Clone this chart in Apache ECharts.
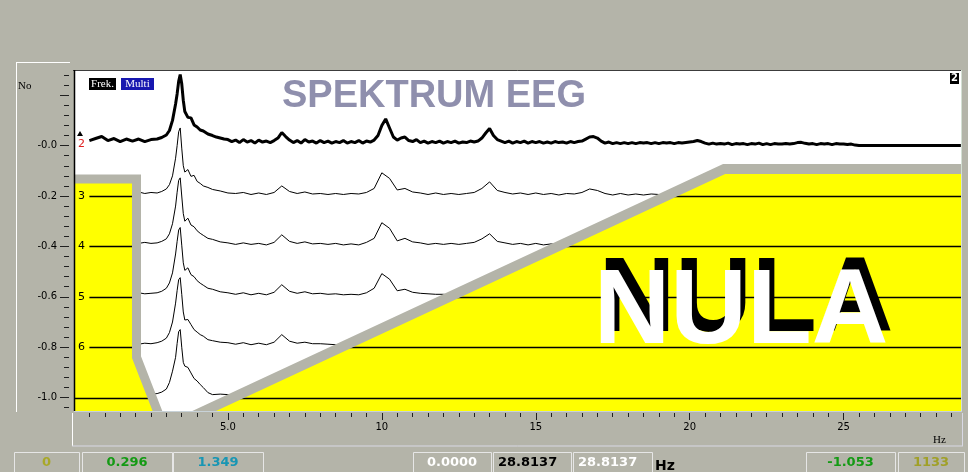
<!DOCTYPE html>
<html><head><meta charset="utf-8">
<script src="https://cdn.jsdelivr.net/npm/echarts@6/dist/echarts.min.js"></script>
<style>html,body{margin:0;padding:0;background:#b4b4a9;}#c{width:968px;height:472px;}</style>
</head><body><div id="c"></div>
<script>
// ---------------- data ----------------
// frequency grid (Hz) of the thin traces 3..7
const freqHz = [0.5,0.7,0.9,1.1,1.3,1.5,1.7,1.9,2.1,2.3,
 2.5,2.7,2.85,3.0,3.1,3.2,3.3,3.35,3.4,3.45,
 3.5,3.55,3.6,3.7,3.8,3.9,4.0,4.1,4.2,4.35,
 4.5,4.75,5.0,5.25,5.5,5.75,6.0,6.25,6.5,6.75,
 7.0,7.25,7.5,7.75,8.0,8.25,8.5,8.75,9.0,9.25,
 9.5,9.75,10.0,10.25,10.5,10.75,11.0,11.25,11.5,11.75,
 12.0,12.25,12.5,12.75,13.0,13.25,13.5,13.75,14.0,14.25,
 14.5,14.75,15.0,15.25,15.5,15.75,16.0,16.25,16.5,16.75,
 17.0,17.25,17.5,17.75,18.0,18.25,18.5,18.75,19.0,19.25,
 19.5,19.75,20.0,20.25,20.5,20.75,21.0,21.25,21.5,21.75,
 22.0,22.25,22.5,22.75,23.0,23.25,23.5,23.75,24.0,24.25,
 24.5,24.75,25.0,25.25,25.5,25.75,26.0,26.25,26.5,26.75,
 27.0,27.25,27.5,27.75,28.0,28.25,28.5,28.75,28.81];

// frequency grid (Hz) of the thick trace 2 (finer)
const freq2 = [0.5,0.7,0.9,1.1,1.3,1.5,1.7,1.9,2.1,2.3,
 2.5,2.7,2.85,3.0,3.1,3.2,3.3,3.35,3.4,3.45,
 3.5,3.55,3.6,3.7,3.8,3.9,4.0,4.1,4.2,4.35,
 4.5,4.625,4.75,4.875,
 5.0,5.125,5.25,5.375,5.5,5.625,5.75,5.875,
 6.0,6.125,6.25,6.375,6.5,6.625,6.75,6.875,
 7.0,7.125,7.25,7.375,7.5,7.625,7.75,7.875,
 8.0,8.125,8.25,8.375,8.5,8.625,8.75,8.875,
 9.0,9.125,9.25,9.375,9.5,9.625,9.75,9.875,
 10.0,10.125,10.25,10.375,10.5,10.625,10.75,10.875,
 11.0,11.125,11.25,11.375,11.5,11.625,11.75,11.875,
 12.0,12.125,12.25,12.375,12.5,12.625,12.75,12.875,
 13.0,13.125,13.25,13.375,13.5,13.625,13.75,13.875,
 14.0,14.125,14.25,14.375,14.5,14.625,14.75,14.875,
 15.0,15.125,15.25,15.375,15.5,15.625,15.75,15.875,
 16.0,16.125,16.25,16.375,16.5,16.625,16.75,16.875,
 17.0,17.125,17.25,17.375,17.5,17.625,17.75,17.875,
 18.0,18.125,18.25,18.375,18.5,18.625,18.75,18.875,
 19.0,19.125,19.25,19.375,19.5,19.625,19.75,19.875,
 20.0,20.125,20.25,20.375,20.5,20.625,20.75,20.875,
 21.0,21.125,21.25,21.375,21.5,21.625,21.75,21.875,
 22.0,22.125,22.25,22.375,22.5,22.625,22.75,22.875,
 23.0,23.125,23.25,23.375,23.5,23.625,23.75,23.875,
 24.0,24.125,24.25,24.375,24.5,24.625,24.75,24.875,
 25.0,25.125,25.25,25.375,25.5,
 25.75,26.0,26.25,26.5,26.75,27.0,27.25,27.5,27.75,28.0,28.25,28.5,28.75,28.81];

// trace offsets (No) and their labels
const levels = [0, -0.2, -0.4, -0.6, -0.8, -1.0];
const traceNames = ['2', '3', '4', '5', '6', ''];

// amplitudes above each trace's offset
const amp2 = [0.020,0.028,0.036,0.020,0.028,0.016,0.026,0.018,0.026,0.016,
 0.024,0.026,0.032,0.042,0.060,0.100,0.165,0.205,0.255,0.282,
 0.245,0.180,0.135,0.112,0.110,0.082,0.074,0.062,0.058,0.046,
 0.040,0.034,0.030,0.026,
 0.024,0.016,0.022,0.012,0.024,0.014,0.020,0.010,
 0.022,0.014,0.018,0.012,0.020,0.030,0.052,0.036,
 0.022,0.012,0.020,0.010,0.024,0.014,0.018,0.010,
 0.020,0.012,0.018,0.010,0.016,0.012,0.020,0.010,
 0.016,0.012,0.020,0.010,0.018,0.014,0.022,0.040,
 0.080,0.106,0.070,0.034,0.022,0.030,0.034,0.020,
 0.016,0.024,0.012,0.018,0.010,0.016,0.012,0.018,
 0.010,0.016,0.012,0.018,0.010,0.014,0.012,0.018,
 0.014,0.018,0.030,0.050,0.068,0.040,0.024,0.018,
 0.012,0.018,0.010,0.016,0.012,0.018,0.010,0.016,
 0.012,0.016,0.010,0.014,0.010,0.016,0.012,0.014,
 0.010,0.016,0.012,0.016,0.018,0.026,0.034,0.036,
 0.030,0.018,0.010,0.014,0.008,0.012,0.008,0.012,
 0.008,0.012,0.008,0.012,0.010,0.012,0.008,0.012,
 0.008,0.012,0.010,0.012,0.008,0.012,0.010,0.012,
 0.014,0.016,0.020,0.016,0.010,0.006,0.010,0.006,
 0.008,0.006,0.010,0.004,0.008,0.006,0.008,0.004,
 0.008,0.006,0.010,0.004,0.008,0.004,0.008,0.006,
 0.006,0.008,0.006,0.008,0.012,0.013,0.009,0.006,
 0.008,0.004,0.008,0.006,0.008,0.004,0.008,0.006,
 0.006,0.004,0.006,0.002,0.000,
 0,0,0,0,0,0,0,0,0,0,0,0,0,0];
const amp3 = [0.014,0.010,0.016,0.012,0.018,0.010,0.014,0.012,0.016,0.010,
 0.014,0.012,0.018,0.028,0.045,0.080,0.150,0.200,0.255,0.270,
 0.190,0.120,0.095,0.105,0.078,0.082,0.058,0.050,0.040,0.034,
 0.026,0.020,0.012,0.010,0.014,0.006,0.012,0.006,0.014,0.040,
 0.018,0.010,0.016,0.008,0.010,0.006,0.010,0.006,0.010,0.008,
 0.014,0.030,0.092,0.070,0.024,0.030,0.016,0.012,0.006,0.012,
 0.006,0.010,0.006,0.010,0.014,0.030,0.056,0.022,0.014,0.008,
 0.012,0.006,0.012,0.006,0.010,0.004,0.010,0.008,0.014,0.028,
 0.022,0.010,0.004,0.010,0.004,0.008,0.004,0.008,0.006,0.004,
 0.006,0.008,0.010,0.014,0.008,0.006,0.004,0.006,0.004,0.006,
 0.004,0.006,0.004,0.004,0.006,0.004,0.008,0.006,0.004,0.004,
 0.006,0.004,0.004,0.002,0,0,0,0,0,0,
 0,0,0,0,0,0,0,0,0];
const amp4 = [0.012,0.016,0.010,0.014,0.012,0.018,0.010,0.014,0.012,0.016,
 0.012,0.014,0.020,0.030,0.050,0.090,0.160,0.215,0.262,0.272,
 0.200,0.130,0.100,0.112,0.085,0.078,0.062,0.052,0.044,0.032,
 0.028,0.018,0.014,0.008,0.014,0.008,0.012,0.006,0.016,0.046,
 0.020,0.012,0.018,0.010,0.012,0.008,0.012,0.006,0.010,0.006,
 0.016,0.032,0.094,0.072,0.022,0.032,0.018,0.014,0.008,0.012,
 0.008,0.012,0.008,0.012,0.016,0.030,0.050,0.020,0.014,0.008,
 0.012,0.006,0.012,0.006,0.010,0.006,0.008,0.010,0.016,0.026,
 0.020,0.010,0.008,0.006,0.008,0.006,0.008,0.006,0.004,0.006,
 0.004,0.006,0.010,0.012,0.006,0.004,0.006,0.004,0.006,0.004,
 0.006,0.004,0.004,0.006,0.004,0.006,0.008,0.006,0.004,0.004,
 0.004,0.006,0.004,0.002,0,0,0,0,0,0,
 0,0,0,0,0,0,0,0,0];
const amp5 = [0.014,0.012,0.018,0.010,0.016,0.012,0.014,0.010,0.016,0.012,
 0.014,0.016,0.022,0.034,0.055,0.095,0.170,0.220,0.265,0.275,
 0.205,0.135,0.105,0.115,0.088,0.080,0.064,0.054,0.046,0.034,
 0.030,0.020,0.016,0.010,0.016,0.008,0.014,0.008,0.018,0.048,
 0.022,0.014,0.020,0.012,0.014,0.010,0.012,0.008,0.010,0.008,
 0.016,0.034,0.092,0.070,0.024,0.030,0.018,0.014,0.012,0.010,
 0.010,0.008,0.012,0.010,0.014,0.028,0.052,0.020,0.012,0.010,
 0.010,0.008,0.010,0.006,0.008,0.008,0.010,0.012,0.014,0.026,
 0.020,0.010,0.006,0.008,0.006,0.006,0.008,0.004,0.006,0.006,
 0.004,0.006,0.008,0.012,0.008,0.006,0.004,0.004,0.006,0.004,
 0.004,0.004,0.006,0.004,0.004,0.006,0.008,0.006,0.004,0.004,
 0.004,0.004,0.006,0.002,0,0,0,0,0,0,
 0,0,0,0,0,0,0,0,0];
const amp6 = [0.016,0.014,0.012,0.018,0.014,0.012,0.016,0.014,0.012,0.016,
 0.014,0.018,0.024,0.036,0.058,0.100,0.175,0.225,0.268,0.276,
 0.210,0.140,0.108,0.110,0.090,0.070,0.060,0.050,0.044,0.030,
 0.026,0.020,0.018,0.012,0.018,0.010,0.016,0.010,0.020,0.050,
 0.024,0.016,0.020,0.014,0.014,0.012,0.010,0.012,0.008,0.010,
 0.014,0.030,0.090,0.068,0.022,0.030,0.016,0.012,0.010,0.010,
 0.008,0.010,0.010,0.008,0.016,0.030,0.054,0.022,0.014,0.010,
 0.010,0.008,0.008,0.008,0.010,0.006,0.008,0.010,0.016,0.028,
 0.022,0.010,0.008,0.006,0.006,0.008,0.006,0.006,0.004,0.006,
 0.006,0.004,0.010,0.014,0.006,0.006,0.004,0.006,0.004,0.004,
 0.006,0.004,0.006,0.004,0.004,0.004,0.008,0.006,0.004,0.004,
 0.004,0.004,0.004,0.002,0,0,0,0,0,0,
 0,0,0,0,0,0,0,0,0];
const amp7 = [0.014,0.016,0.012,0.014,0.018,0.012,0.016,0.014,0.012,0.016,
 0.014,0.016,0.022,0.034,0.060,0.105,0.160,0.215,0.262,0.270,
 0.200,0.140,0.125,0.120,0.098,0.076,0.066,0.052,0.040,0.020,
 0.012,0.014,0.012,0.010,0.014,0.010,0.012,0.010,0.016,0.044,
 0.020,0.014,0.018,0.012,0.010,0.012,0.008,0.010,0.008,0.010,
 0.014,0.030,0.088,0.066,0.022,0.028,0.016,0.012,0.010,0.008,
 0.010,0.008,0.010,0.008,0.014,0.028,0.050,0.020,0.012,0.010,
 0.010,0.006,0.008,0.008,0.008,0.006,0.008,0.010,0.014,0.026,
 0.020,0.010,0.006,0.006,0.006,0.006,0.004,0.006,0.004,0.004,
 0.006,0.004,0.008,0.012,0.006,0.004,0.004,0.004,0.004,0.004,
 0.004,0.004,0.004,0.006,0.004,0.004,0.006,0.006,0.004,0.004,
 0.004,0.004,0.004,0.002,0,0,0,0,0,0,
 0,0,0,0,0,0,0,0,0];

// axis ticks / labels
const yMajorTicks = [0.2, 0, -0.2, -0.4, -0.6, -0.8, -1.0];
const yLabelValues = [0, -0.2, -0.4, -0.6, -0.8, -1.0];
const yMinorTicks = [0.28,0.24,0.16,0.12,0.08,0.04,-0.04,-0.08,-0.12,-0.16,-0.24,-0.28,-0.32,-0.36,
 -0.44,-0.48,-0.52,-0.56,-0.64,-0.68,-0.72,-0.76,-0.84,-0.88,-0.92,-0.96,-1.04];
const xMajorTicks = [5, 10, 15, 20, 25];
const xMinorTicks = [0.5,1,1.5,2,2.5,3,3.5,4,4.5,5.5,6,6.5,7,7.5,8,8.5,9,9.5,
 10.5,11,11.5,12,12.5,13,13.5,14,14.5,15.5,16,16.5,17,17.5,18,18.5,19,19.5,
 20.5,21,21.5,22,22.5,23,23.5,24,24.5,25.5,26,26.5,27,27.5,28,28.5];
const xMin = 0, xMax = 28.8137, yMin = -1.053, yMax = 0.296;

// status bar texts
const statusTexts = ['0', '0.296', '1.349', '0.0000', '28.8137', '28.8137', '-1.053', '1133'];

// mask ("NULA") outline in data coordinates
const maskLeft = [[0,-0.133],[2.03,-0.133],[2.03,-0.839],[2.71,-1.053],[0,-1.053]];
const maskRight = [[4.22,-1.053],[21.12,-0.093],[28.8137,-0.093],[28.8137,-1.053]];
const borderLeft = [[-0.5,-0.133],[2.03,-0.133],[2.03,-0.839],[2.71,-1.053],[2.80,-1.081]];
const borderRight = [[3.70,-1.083],[21.12,-0.093],[29.5,-0.093]];

// ---------------- chart ----------------
const BG = '#b4b4a9';
const chart = echarts.init(document.getElementById('c'), null, {renderer: 'canvas', width: 968, height: 472});

const traceAmps = [amp2, amp3, amp4, amp5, amp6, amp7];
const traceFreqs = [freq2, freqHz, freqHz, freqHz, freqHz, freqHz];
const series = traceAmps.map((amps, i) => ({
  type: 'line', name: 'trace' + i, xAxisIndex: 0, yAxisIndex: 0,
  data: traceFreqs[i].map((f, j) => [f, +(levels[i] + amps[j]).toFixed(4)]),
  showSymbol: false, symbol: 'none', silent: true, z: 2,
  lineStyle: {color: '#000', width: i === 0 ? 3 : 1},
  emphasis: {disabled: true}
}));

function lerpX(a, b, v) { return a[0] + (v - a[1]) * (b[0] - a[0]) / (b[1] - a[1]); }

series.push({
  type: 'custom', xAxisIndex: 0, yAxisIndex: 0, z: 3, clip: true, silent: true,
  data: [[0, 0]],
  renderItem: function (params, api) {
    const P = p => api.coord(p);
    const ch = [];
    ch.push({type: 'polygon', shape: {points: maskLeft.map(P)}, style: {fill: '#ffff00'}});
    ch.push({type: 'polygon', shape: {points: maskRight.map(P)}, style: {fill: '#ffff00'}});
    levels.forEach((v, i) => {
      if (i === 0) return;
      const y = Math.round(P([0, v])[1]) + 0.5;
      const xs = P([traceNames[i] ? 0.5 : 0, v])[0];
      const xl = v >= maskLeft[2][1] ? maskLeft[2][0] : lerpX(maskLeft[2], maskLeft[3], v);
      const xe = P([xl, v])[0];
      ch.push({type: 'line', shape: {x1: xs, y1: y, x2: xe, y2: y}, style: {stroke: '#000', lineWidth: 1.4}});
      const xr = P([lerpX(maskRight[0], maskRight[1], v), v])[0];
      const xm = P([xMax, v])[0];
      ch.push({type: 'line', shape: {x1: xr, y1: y, x2: xm, y2: y}, style: {stroke: '#000', lineWidth: 1.4}});
    });
    ch.push({type: 'polyline', shape: {points: borderLeft.map(P)}, style: {stroke: BG, lineWidth: 9, fill: 'none', lineJoin: 'miter'}});
    ch.push({type: 'polyline', shape: {points: borderRight.map(P)}, style: {stroke: BG, lineWidth: 10, fill: 'none', lineJoin: 'miter'}});
    levels.forEach((v, i) => {
      if (!traceNames[i]) return;
      const p = P([0, v]);
      ch.push({type: 'text', x: p[0] + 7.5, y: p[1] - (i === 0 ? 1.5 : 0),
        style: {text: traceNames[i], fill: i === 0 ? '#e02020' : '#000', font: '11px "DejaVu Sans"', align: 'center', verticalAlign: 'middle'}});
    });
    const p0 = P([0, levels[0]]);
    ch.push({type: 'polygon', shape: {points: [[p0[0] + 3, p0[1] - 9.5], [p0[0] + 9, p0[1] - 9.5], [p0[0] + 6, p0[1] - 14.5]]}, style: {fill: '#000'}});
    return {type: 'group', children: ch};
  }
});

function rect(x, y, w, h, fill, stroke, z) {
  return {type: 'rect', shape: {x: x, y: y, width: w, height: h}, style: {fill: fill, stroke: stroke || null, lineWidth: 1}, z: z, silent: true};
}
function line(x1, y1, x2, y2, color, w, z) {
  return {type: 'line', shape: {x1: x1, y1: y1, x2: x2, y2: y2}, style: {stroke: color, lineWidth: w || 1}, z: z, silent: true};
}
function text(x, y, s, font, fill, align, z) {
  return {type: 'text', x: x, y: y, style: {text: s, font: font, fill: fill, align: align || 'center', verticalAlign: 'middle'}, z: z, silent: true};
}

const g = [];
// left axis panel
g.push(line(16.5, 62, 16.5, 412, '#ffffff', 1, 5));
g.push(line(16, 62.5, 70, 62.5, '#ffffff', 1, 5));
g.push(text(18, 86, 'No', '11px "Liberation Serif"', '#000', 'left', 5));
// plot frame
g.push(line(73, 70.5, 962, 70.5, '#3c3c3c', 1, 50));
g.push(line(74.5, 70, 74.5, 411, '#000', 1.5, 50));
g.push(line(961.5, 70, 961.5, 411, '#d4e0d4', 1, 50));
g.push(line(74, 411.5, 962, 411.5, '#c8d2d8', 1, 50));
// x axis panel
g.push(line(72.5, 413, 72.5, 446, '#ffffff', 1, 5));
g.push(line(72, 446, 963, 446, '#d8d8e4', 1, 5));
g.push(line(962.5, 413, 962.5, 446, '#d8d8e4', 1, 5));
g.push(text(933, 440, 'Hz', '11px "Liberation Serif"', '#000', 'left', 5));
// title and legend-like tags
g.push(text(434, 97, 'SPEKTRUM EEG', 'bold 38px "Liberation Sans"', '#8f8fad', 'center', 60));
g.push(rect(89, 78, 27, 12, '#000', null, 60));
g.push(text(102.5, 84, 'Frek.', '11px "Liberation Serif"', '#fff', 'center', 61));
g.push(rect(121, 78, 33, 12, '#1818b0', null, 60));
g.push(text(137.5, 84, 'Multi', '11px "Liberation Serif"', '#fff', 'center', 61));
g.push(rect(950, 73, 9, 11, '#000', null, 60));
g.push(text(954.5, 78.5, '2', 'bold 10px "DejaVu Sans"', '#fff', 'center', 61));
// NULA
g.push(text(746, 302, 'NULA', 'bold 106px "Liberation Sans"', '#000', 'center', 70));
g.push(text(741, 314, 'NULA', 'bold 106px "Liberation Sans"', '#fff', 'center', 71));
// status bar
const boxes = [[14, 79], [82, 172], [173, 263], [413, 491], [493, 571], [573, 652], [806, 895], [898, 964]];
const colors = ['#a8a828', '#149a14', '#1896b4', '#ffffff', '#000000', '#ffffff', '#149a14', '#a0a028'];
boxes.forEach((b, i) => {
  g.push(rect(b[0] + 0.5, 452.5, b[1] - b[0], 24, null, '#e6e6e6', 5));
  const left = (i === 4 || i === 5);
  g.push(text(left ? b[0] + 5 : (b[0] + b[1]) / 2, 463, statusTexts[i], 'bold 13px "DejaVu Sans"', colors[i], left ? 'left' : 'center', 6));
});
g.push(text(655, 466, 'Hz', 'bold 14px "DejaVu Sans"', '#000', 'left', 6));

const option = {
  animation: false,
  backgroundColor: BG,
  grid: {left: 74, right: 7, top: 71, bottom: 61, show: true, backgroundColor: '#ffffff', borderWidth: 0, containLabel: false, outerBoundsMode: 'none'},
  xAxis: [
    {type: 'value', min: xMin, max: xMax, position: 'bottom', offset: 2,
      axisLine: {show: false, onZero: false}, splitLine: {show: false},
      axisTick: {show: true, customValues: xMajorTicks, length: 7, lineStyle: {color: '#202020'}},
      axisLabel: {show: true, customValues: xMajorTicks, margin: 9, color: '#000', fontFamily: 'DejaVu Sans', fontSize: 10,
        formatter: v => (v === 5 ? '5.0' : String(v))}},
    {type: 'value', min: xMin, max: xMax, position: 'bottom', offset: 2,
      axisLine: {show: false, onZero: false}, splitLine: {show: false}, axisLabel: {show: false},
      axisTick: {show: true, customValues: xMinorTicks, length: 4, lineStyle: {color: '#202020'}}}
  ],
  yAxis: [
    {type: 'value', min: yMin, max: yMax, position: 'left', offset: 5,
      axisLine: {show: false, onZero: false}, splitLine: {show: false},
      axisTick: {show: true, customValues: yMajorTicks, length: 9, lineStyle: {color: '#202020'}},
      axisLabel: {show: true, customValues: yLabelValues, margin: 12, color: '#000', fontFamily: 'DejaVu Sans', fontSize: 10,
        formatter: v => (Math.abs(v) < 1e-9 ? '-0.0' : v.toFixed(1))}},
    {type: 'value', min: yMin, max: yMax, position: 'left', offset: 5,
      axisLine: {show: false, onZero: false}, splitLine: {show: false}, axisLabel: {show: false},
      axisTick: {show: true, customValues: yMinorTicks, length: 5, lineStyle: {color: '#202020'}}}
  ],
  graphic: {elements: g},
  series: series
};
chart.setOption(option);
</script>
</body></html>
